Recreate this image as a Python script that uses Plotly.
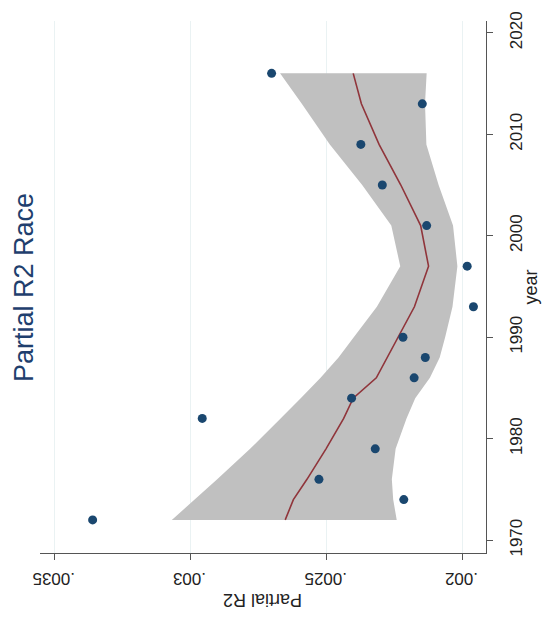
import plotly.graph_objects as go

# Survey years and the estimated partial R-squared for race
years = [1972, 1974, 1976, 1979, 1982, 1984, 1986, 1988, 1990, 1993, 1997, 2001, 2005, 2009, 2013, 2016]
partial_r2 = [0.003358, 0.002214, 0.002526, 0.002319, 0.002955, 0.002406, 0.002176, 0.002135,
              0.002217, 0.001958, 0.001981, 0.002130, 0.002293, 0.002372, 0.002146, 0.002700]

# Local polynomial smooth and its confidence band, evaluated at the survey years
smooth = [0.002650, 0.002620, 0.002570, 0.002500, 0.002435, 0.002400, 0.002315, 0.002275,
          0.002238, 0.002175, 0.002123, 0.002152, 0.002225, 0.002305, 0.002370, 0.002400]
ci_upper = [0.003067, 0.002983, 0.002900, 0.002779, 0.002667, 0.002593, 0.002520, 0.002454,
            0.002398, 0.002313, 0.002227, 0.002260, 0.002367, 0.002486, 0.002589, 0.002669]
ci_lower = [0.002240, 0.002253, 0.002258, 0.002244, 0.002204, 0.002172, 0.002118, 0.002082,
            0.002062, 0.002035, 0.002017, 0.002033, 0.002086, 0.002131, 0.002136, 0.002130]

r2_ticks = [0.002, 0.0025, 0.003, 0.0035]
r2_tick_labels = [".002", ".0025", ".003", ".0035"]
year_ticks = [1970, 1980, 1990, 2000, 2010, 2020]

FONT = "Liberation Sans, Arial, sans-serif"
NAVY = "#1a476f"
MAROON = "#90353b"
BAND = "#c0c0c0"
GRID = "#eaf2f3"
AXIS = "#555555"
TEXT = "#222222"

fig = go.Figure()

# confidence band as a closed polygon
fig.add_trace(go.Scatter(
    x=ci_upper + ci_lower[::-1],
    y=years + years[::-1],
    fill="toself", fillcolor=BAND, mode="none",
    hoverinfo="skip", showlegend=False,
))

fig.add_trace(go.Scatter(
    x=smooth, y=years, mode="lines",
    line=dict(color=MAROON, width=1.6),
    showlegend=False,
))

fig.add_trace(go.Scatter(
    x=partial_r2, y=years, mode="markers",
    marker=dict(color=NAVY, size=9, line=dict(width=0)),
    showlegend=False,
))

# upside-down value labels under the bottom axis
r2_label_notes = [
    dict(text=lab, textangle=180,
         xref="x", yref="paper", x=val, y=-0.048,
         xanchor="center", yanchor="middle", showarrow=False,
         font=dict(family=FONT, size=17, color=TEXT))
    for val, lab in zip(r2_ticks, r2_tick_labels)
]

fig.update_layout(
    width=543, height=621,
    margin=dict(l=40, r=57, t=12, b=68),
    paper_bgcolor="white", plot_bgcolor="white",
    font=dict(family=FONT, size=17, color=TEXT),
    showlegend=False,
    xaxis=dict(
        range=[0.0035515, 0.0019118],
        tickvals=r2_ticks, showticklabels=False,
        ticks="outside", ticklen=6, tickwidth=1, tickcolor=AXIS,
        showline=True, linecolor=AXIS, linewidth=1,
        showgrid=True, gridcolor=GRID, gridwidth=1.2,
        zeroline=False,
    ),
    yaxis=dict(
        range=[1968.74, 2021.16],
        side="right",
        tickvals=year_ticks,
        tickangle=-90,
        ticks="outside", ticklen=6, tickwidth=1, tickcolor=AXIS,
        showline=True, linecolor=AXIS, linewidth=1,
        showgrid=False, zeroline=False,
        ticklabelstandoff=9,
        tickfont=dict(family=FONT, size=17, color=TEXT),
    ),
    annotations=r2_label_notes + [
        dict(text="Partial R2 Race", textangle=-90,
             xref="paper", yref="paper", x=-0.036, y=0.5,
             xanchor="center", yanchor="middle", showarrow=False,
             font=dict(family=FONT, size=27, color="#1f3f6e")),
        dict(text="Partial R2", textangle=180,
             xref="paper", yref="paper", x=0.5, y=-0.087,
             xanchor="center", yanchor="middle", showarrow=False,
             font=dict(family=FONT, size=18, color=TEXT)),
        dict(text="year", textangle=-90,
             xref="paper", yref="paper", x=1.1, y=0.5,
             xanchor="center", yanchor="middle", showarrow=False,
             font=dict(family=FONT, size=18, color=TEXT)),
    ],
)

fig.write_html("out.html")
